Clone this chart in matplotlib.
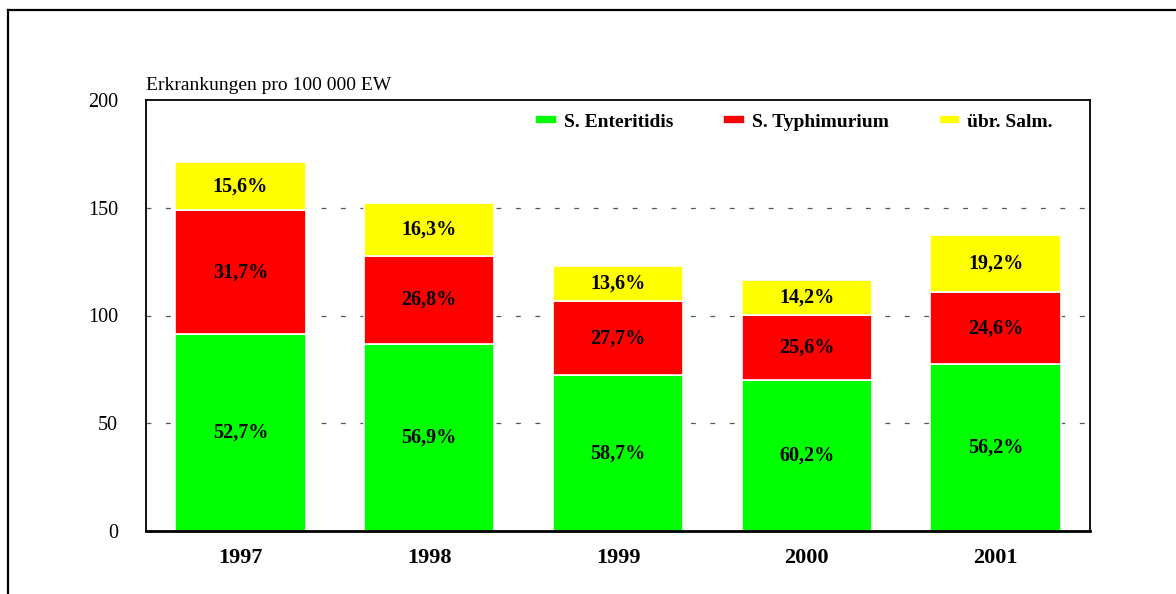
import matplotlib.pyplot as plt
import numpy as np

plt.rcParams['font.family'] = ['Liberation Serif', 'DejaVu Serif']
plt.rcParams['lines.scale_dashes'] = False

years = ['1997', '1998', '1999', '2000', '2001']
enteritidis = [91.3, 86.7, 72.3, 70.1, 77.3]
typhimurium = [57.5, 40.9, 34.2, 30.0, 33.6]
uebrige = [22.4, 24.8, 16.5, 16.3, 26.3]

pct_ent = ['52,7%', '56,9%', '58,7%', '60,2%', '56,2%']
pct_typ = ['31,7%', '26,8%', '27,7%', '25,6%', '24,6%']
pct_ueb = ['15,6%', '16,3%', '13,6%', '14,2%', '19,2%']

series = [
    ('S. Enteritidis', enteritidis, pct_ent, '#00ff00'),
    ('S. Typhimurium', typhimurium, pct_typ, '#ff0000'),
    ('übr. Salm.', uebrige, pct_ueb, '#ffff00'),
]

fig = plt.figure(figsize=(11.76, 5.94), dpi=100)
ax = fig.add_axes([146/1176, 1 - 531/594, 944/1176, 431/594])

x = np.arange(len(years))
bottom = np.zeros(len(years))
for name, vals, labels, col in series:
    bars = ax.bar(x, vals, 0.69, bottom=bottom, color=col, edgecolor='white',
                  linewidth=1.2, label=name, zorder=2)
    for b, lab in zip(bars, labels):
        ax.text(b.get_x() + b.get_width() / 2, b.get_y() + b.get_height() / 2, lab,
                ha='center', va='center', fontsize=14.5, fontweight='bold', zorder=3)
    bottom += np.array(vals)

ax.set_xlim(-0.5, 4.5)
ax.set_ylim(0, 200)
ax.set_yticks([0, 50, 100, 150, 200])
ax.set_xticks(x)
ax.set_xticklabels(years, fontsize=16, fontweight='bold')
ax.tick_params(axis='y', length=0, pad=20, labelsize=14.5)
ax.tick_params(axis='x', length=0, pad=12)
ax.yaxis.grid(True, color='#555555', linewidth=0.9, linestyle=(0, (3.5, 10.5)), zorder=0)
ax.set_axisbelow(True)
# no dashed line on top of the frame at 200 or on the base line
gl = ax.yaxis.get_gridlines()
gl[0].set_visible(False)
gl[-1].set_visible(False)
for s in ax.spines.values():
    s.set_linewidth(1.3)
ax.spines['bottom'].set_linewidth(2)

ax.text(0, 1.015, 'Erkrankungen pro 100 000 EW', transform=ax.transAxes,
        ha='left', va='bottom', fontsize=14)

ax.legend(loc='upper right', bbox_to_anchor=(0.975, 1.0), ncol=3, frameon=False,
          prop={'weight': 'bold', 'size': 14}, handlelength=1.1, handleheight=0.3,
          handletextpad=0.35, columnspacing=2.6, borderaxespad=0.3)

# outer frame (only top and left edge fall inside the image)
fig.add_artist(plt.Line2D([8/1176, 1], [1 - 10/594, 1 - 10/594], color='black', linewidth=1.6))
fig.add_artist(plt.Line2D([8/1176, 8/1176], [0, 1 - 10/594], color='black', linewidth=1.6))

fig.savefig('out.png', dpi=100)
